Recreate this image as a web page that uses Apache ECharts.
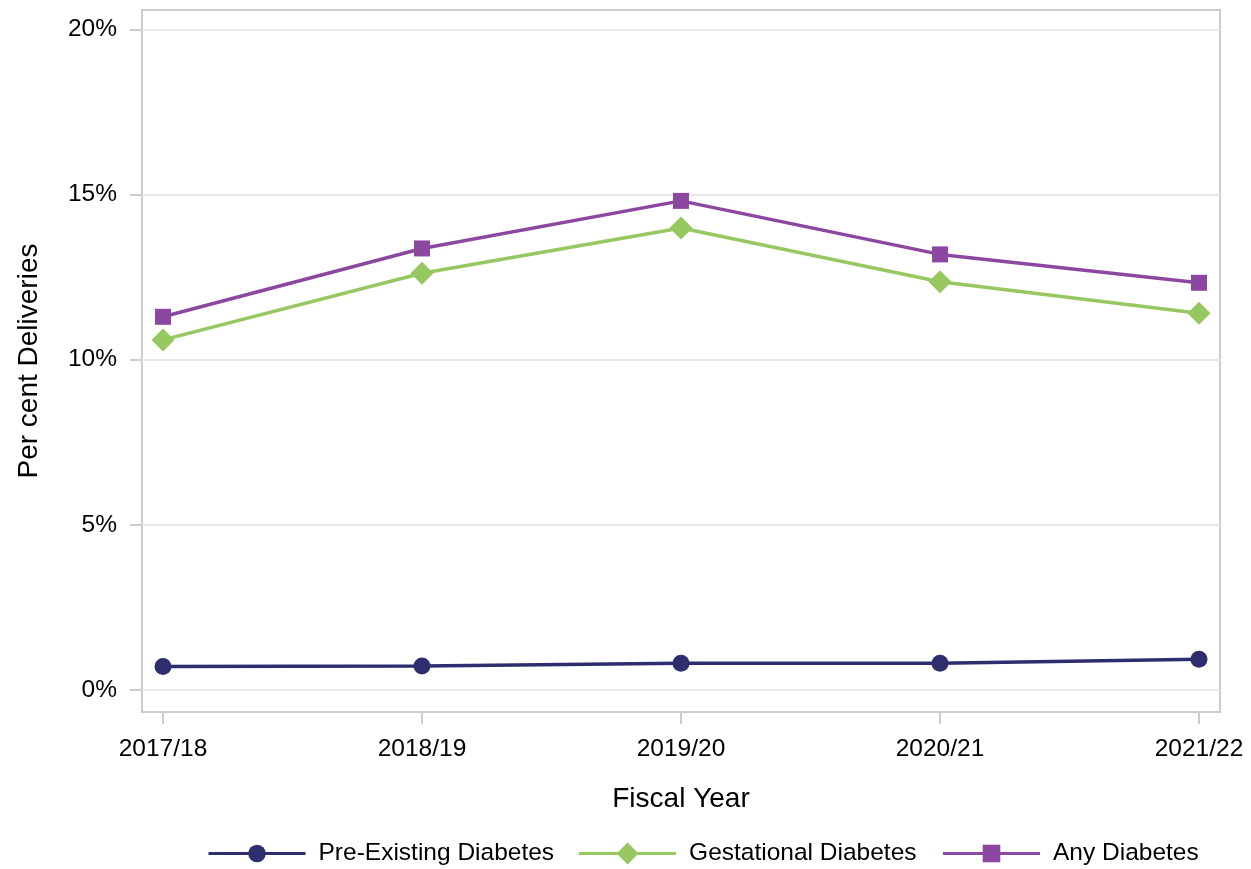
<!DOCTYPE html>
<html><head><meta charset="utf-8">
<script src="https://cdn.jsdelivr.net/npm/echarts@6/dist/echarts.min.js"></script>
<style>html,body{margin:0;padding:0;background:#fff}#c{width:1251px;height:869px}</style>
</head><body><div id="c"></div>
<script>
const categories = ['2017/18', '2018/19', '2019/20', '2020/21', '2021/22'];
const preExisting = [0.71, 0.73, 0.81, 0.81, 0.93];
const gestational = [10.60, 12.62, 13.99, 12.36, 11.41];
const anyDiabetes = [11.30, 13.37, 14.81, 13.19, 12.33];
const yTicks = [0, 5, 10, 15, 20];
const seriesNames = ['Pre-Existing Diabetes', 'Gestational Diabetes', 'Any Diabetes'];
const colors = ['#2e2d6e', '#97c761', '#8c47a0'];

const FONT = '"Liberation Sans", Arial, sans-serif';
const xIdx = categories.map((c, i) => i);
const toPairs = arr => arr.map((v, i) => [i, v]);
const diamondLegendIcon = 'path://M0 9.5L97 9.5L97 12.5L0 12.5Z M48.5 0L59.5 11L48.5 22L37.5 11Z';

const chart = echarts.init(document.getElementById('c'), null, {renderer: 'canvas'});
chart.setOption({
  animation: false,
  backgroundColor: '#ffffff',
  textStyle: {fontFamily: FONT},
  grid: {left: 142, top: 10, right: 31, bottom: 157, show: true, borderColor: '#cccccc', borderWidth: 2, backgroundColor: 'transparent'},
  xAxis: {
    type: 'value', min: -0.0811, max: 4.0811,
    name: 'Fiscal Year', nameLocation: 'middle', nameGap: 73,
    nameTextStyle: {fontSize: 28, color: '#000', fontFamily: FONT},
    axisLine: {show: false, onZero: false},
    axisTick: {show: true, inside: false, length: 12, lineStyle: {color: '#cccccc', width: 2}, customValues: xIdx},
    axisLabel: {customValues: xIdx, margin: 25, fontSize: 24.5, color: '#000', fontFamily: FONT,
      formatter: v => categories[Math.round(v)]},
    splitLine: {show: false}
  },
  yAxis: {
    type: 'value', min: -0.666, max: 20.59,
    name: 'Per cent Deliveries', nameLocation: 'middle', nameGap: 99,
    nameTextStyle: {fontSize: 28, color: '#000', fontFamily: FONT},
    axisLine: {show: false, onZero: false},
    axisTick: {show: true, inside: false, length: 12, lineStyle: {color: '#cccccc', width: 2}, customValues: yTicks},
    axisLabel: {customValues: yTicks, margin: 25, fontSize: 24.5, color: '#000', fontFamily: FONT,
      formatter: v => Math.round(v) + '%'},
    splitLine: {show: true, lineStyle: {color: '#e8e8e8', width: 2}}
  },
  legend: {
    left: 207, top: 841, padding: 0, itemWidth: 97, itemHeight: 22, itemGap: 25,
    textStyle: {fontSize: 24.5, color: '#000', fontFamily: FONT, padding: [0, 0, 0, 8]},
    lineStyle: {width: 3},
    data: [
      {name: seriesNames[0]},
      {name: seriesNames[1], icon: diamondLegendIcon, itemStyle: {color: colors[1], borderWidth: 0}},
      {name: seriesNames[2]}
    ]
  },
  series: [
    {name: seriesNames[0], type: 'line', data: toPairs(preExisting), symbol: 'circle', symbolSize: 17,
     lineStyle: {color: colors[0], width: 3.5}, itemStyle: {color: colors[0]}},
    {name: seriesNames[1], type: 'line', data: toPairs(gestational), symbol: 'diamond', symbolSize: 23,
     lineStyle: {color: colors[1], width: 3.5}, itemStyle: {color: colors[1]}},
    {name: seriesNames[2], type: 'line', data: toPairs(anyDiabetes), symbol: 'rect', symbolSize: 16,
     lineStyle: {color: colors[2], width: 3.5}, itemStyle: {color: colors[2]}}
  ]
});
</script></body></html>
